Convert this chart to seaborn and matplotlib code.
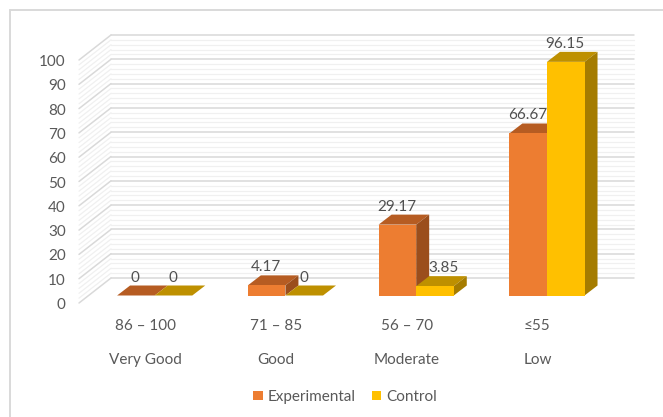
import matplotlib
matplotlib.use("Agg")
import matplotlib.pyplot as plt
import pandas as pd
import seaborn as sns
from matplotlib.lines import Line2D
from matplotlib.patches import Polygon
from matplotlib.transforms import ScaledTranslation

ranges = ["86 – 100", "71 – 85", "56 – 70", "≤55"]
grades = ["Very Good", "Good", "Moderate", "Low"]
experimental = [0, 4.17, 29.17, 66.67]
control = [0, 0, 3.85, 96.15]

COLORS = {"Experimental": "#ED7D31", "Control": "#FFC000"}
TOP_SHADES = {"Experimental": "#B65C22", "Control": "#BE9000"}
SIDE_SHADES = {"Experimental": "#9B4E1C", "Control": "#A57C00"}
TEXT = "#595959"
GRID_MAJOR = "#D9D9D9"
GRID_MINOR = "#F0F0F0"

sns.set_theme(style="white")
plt.rcParams["font.family"] = ["Lato", "DejaVu Sans"]
plt.rcParams["font.size"] = 11

W, H = 663, 417
fig = plt.figure(figsize=(W / 100, H / 100), dpi=100, facecolor="white")

# The axes box is the plane holding the bar fronts; everything else is offset from it.
left_px, right_px, base_px, top_px = 88.0, 611.0, 295.5, 52.5
ax = fig.add_axes([left_px / W, 1 - base_px / H,
                   (right_px - left_px) / W, (base_px - top_px) / H])
ax.patch.set_alpha(0)

long_table = pd.DataFrame({
    "band": ranges * 2,
    "group": ["Experimental"] * 4 + ["Control"] * 4,
    "score": experimental + control,
})
sns.barplot(data=long_table, x="band", y="score", hue="group", palette=COLORS,
            width=0.575, gap=0, saturation=1, ax=ax, zorder=5, linewidth=0)

ax.set_xlim(-0.51, 3.49)
ax.set_ylim(0, 100)
px_x = (3.49 + 0.51) / (right_px - left_px)
px_y = 100 / (base_px - top_px)

# Depth of a bar, and where the back wall and front edge sit relative to the bars.
bar_dx, bar_dy = 13 * px_x, 10 * px_y
back_dx, back_dy = 23 * px_x, 17.5 * px_y
front_dx, front_dy = -9 * px_x, -7.5 * px_y
x0, x1 = ax.get_xlim()

for v in range(0, 101, 2):
    major = v % 10 == 0
    c, lw, z = (GRID_MAJOR, 1.1, 2) if major else (GRID_MINOR, 0.9, 1)
    y = v + back_dy
    ax.plot([x0 + back_dx, x1 + back_dx], [y, y], color=c, lw=lw, zorder=z, clip_on=False)
    ax.plot([x0 + front_dx, x0 + back_dx], [v + front_dy, y], color=c, lw=lw, zorder=z,
            clip_on=False)

# Extruded faces are built from the drawn bars, so they follow the values.
for layer, (container, name) in enumerate(zip(ax.containers, COLORS)):
    for bar in container:
        xa, xb = bar.get_x(), bar.get_x() + bar.get_width()
        h = bar.get_height()
        ax.add_patch(Polygon([(xa, h), (xb, h), (xb + bar_dx, h + bar_dy), (xa + bar_dx, h + bar_dy)],
                             closed=True, fc=TOP_SHADES[name], ec="none",
                             zorder=3 + layer * 0.5, clip_on=False))
        if h > 0:
            ax.add_patch(Polygon([(xb, 0), (xb + bar_dx, bar_dy), (xb + bar_dx, h + bar_dy), (xb, h)],
                                 closed=True, fc=SIDE_SHADES[name], ec="none",
                                 zorder=3 + layer * 0.5, clip_on=False))
    for bar in container:
        bar.set_clip_on(False)

# Value labels sit above the top face; the small control bar's label steps aside.
nudges = {(1, 2): 8.5}
for i, container in enumerate(ax.containers):
    for j, bar in enumerate(container):
        h = bar.get_height()
        ax.annotate(f"{h:g}", (bar.get_x() + bar.get_width() / 2, h),
                    xytext=(nudges.get((i, j), -0.5) * 0.72, 18 * 0.72),
                    textcoords="offset points", ha="center", va="center",
                    color="#505050", fontsize=11, zorder=8, annotation_clip=False)

sns.despine(ax=ax, left=True, bottom=True)
ax.set_xlabel("")
ax.set_ylabel("")
ax.set_yticks(range(0, 101, 10))
ax.set_xticks(range(4))
ax.set_xticklabels([f"{a}\n{b}" for a, b in zip(ranges, grades)], linespacing=2.8)
ax.tick_params(axis="both", length=0, labelsize=11, labelcolor=TEXT)
ax.tick_params(axis="y", pad=16)
ax.tick_params(axis="x", pad=17)

shift_y = ScaledTranslation(0, -8 / 100, fig.dpi_scale_trans)
for label in ax.get_yticklabels():
    label.set_transform(label.get_transform() + shift_y)
shift_x = ScaledTranslation(-9.5 / 100, 0, fig.dpi_scale_trans)
for label in ax.get_xticklabels():
    label.set_transform(label.get_transform() + shift_x)

sns.move_legend(ax, "center", bbox_to_anchor=(345 / W, 1 - 397 / H),
                bbox_transform=fig.transFigure, ncol=2, frameon=False, title=None,
                fontsize=11, labelcolor=TEXT, handlelength=0.6, handleheight=0.6,
                handletextpad=0.3, columnspacing=1.1, borderpad=0)

# Chart-area frame along the top and left edges.
frame = "#D9D9D9"
fig.add_artist(Line2D([10 / W, 10 / W], [0, 1 - 10 / H], color=frame, lw=1.4))
fig.add_artist(Line2D([10 / W, 1], [1 - 10 / H, 1 - 10 / H], color=frame, lw=1.4))

fig.savefig("out.png", dpi=100)
